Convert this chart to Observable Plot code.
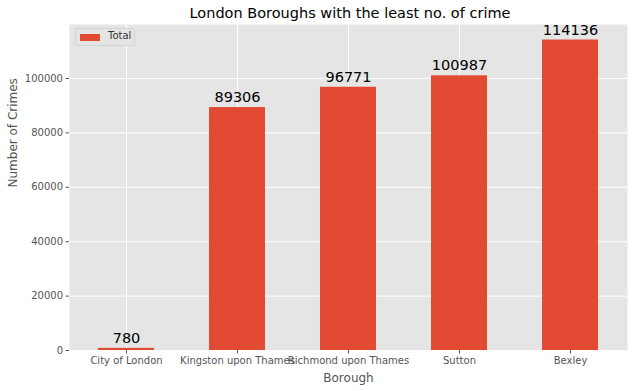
<!DOCTYPE html>
<html>
<head>
<meta charset="utf-8">
<script src="https://cdn.jsdelivr.net/npm/d3@7"></script>
<script src="https://cdn.jsdelivr.net/npm/@observablehq/plot@0.6"></script>
<style>
  body { margin: 0; background: white; font-family: "DejaVu Sans", sans-serif; }
  #wrap { position: relative; width: 634px; height: 391px; }
  #title { height: 24px; line-height: 26px; text-align: center; font-size: 14.5px; color: #000; padding-left: 66px; box-sizing: border-box; }
  #legend { position: absolute; left: 75px; top: 28px; width: 60px; height: 18px; border: 1px solid #d4d4d4; border-radius: 2px; background: #e5e5e5; font-size: 10px; color: #333; box-sizing: border-box; }
  #legend .sw { position: absolute; left: 4px; top: 5px; width: 20px; height: 7px; background: #E24A33; }
  #legend .lb { position: absolute; left: 32px; top: 1px; }
</style>
</head>
<body>
<div id="wrap">
  <div id="title">London Boroughs with the least no. of crime</div>
  <div id="chart"></div>
  <div id="legend"><div class="sw"></div><div class="lb">Total</div></div>
</div>
<script>
const boroughs = ["City of London", "Kingston upon Thames", "Richmond upon Thames", "Sutton", "Bexley"];
const totals = [780, 89306, 96771, 100987, 114136];
const yTicks = [0, 20000, 40000, 60000, 80000, 100000];
const xLabel = "Borough";
const yLabel = "Number of Crimes";

const data = boroughs.map((b, i) => ({borough: b, total: totals[i]}));

const chart = Plot.plot({
  width: 634,
  height: 367,
  marginTop: 0,
  marginBottom: 41,
  marginLeft: 69,
  marginRight: 7,
  style: {fontFamily: "DejaVu Sans", fontSize: "10px", color: "#555", background: "white", overflow: "visible"},
  x: {type: "band", domain: boroughs, paddingInner: 0.5, paddingOuter: 0.25},
  y: {domain: [0, 119843]},
  marks: [
    Plot.frame({fill: "#E5E5E5", stroke: null}),
    Plot.gridX({stroke: "white", strokeOpacity: 1, strokeWidth: 1}),
    Plot.gridY(yTicks, {stroke: "white", strokeOpacity: 1, strokeWidth: 1}),
    Plot.barY(data, {x: "borough", y: "total", fill: "#E24A33"}),
    Plot.text(data, {x: "borough", y: "total", text: d => String(d.total), dy: -10, fontSize: 14.5, fill: "black"}),
    Plot.axisX({tickSize: 3.5, tickPadding: 3, label: null, fontSize: 10, stroke: "#555"}),
    Plot.axisY(yTicks, {tickSize: 3.5, tickPadding: 3, tickFormat: d => String(d), label: null, fontSize: 10, stroke: "#555"}),
    Plot.text([xLabel], {frameAnchor: "bottom", dy: 31, text: d => d, fontSize: 12, fill: "#555"}),
    Plot.text([yLabel], {frameAnchor: "left", dx: -56, rotate: -90, text: d => d, fontSize: 12, fill: "#555"})
  ]
});
document.getElementById("chart").appendChild(chart);
</script>
</body>
</html>
